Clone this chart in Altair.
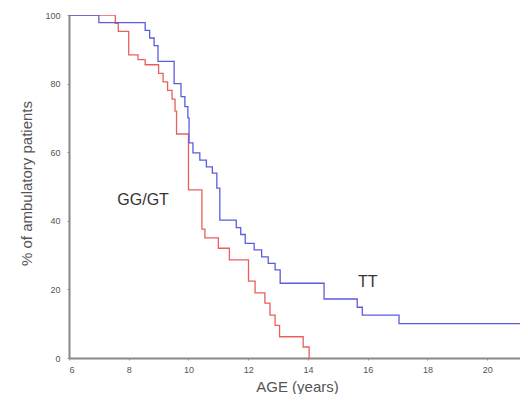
import altair as alt
import pandas as pd

# TT (blue) Kaplan-Meier steps: age at which value changes, value after
tt_age = [6.0, 7.0, 8.55, 8.7, 8.85, 8.98, 9.52, 9.75, 9.88, 9.98, 10.02, 10.15, 10.38, 10.6, 10.8,
          10.95, 11.05, 11.6, 11.75, 11.9, 12.2, 12.45, 12.67, 12.9, 13.07, 14.54, 15.65, 15.82,
          17.05, 21.4]
tt_pct = [100.0, 97.8, 95.5, 93.3, 91.1, 86.5, 80.0, 76.2, 73.3, 70.0, 62.7, 59.8, 57.7, 55.7, 53.9,
          49.5, 40.2, 38.0, 36.0, 33.4, 31.5, 29.5, 27.6, 25.7, 21.8, 17.2, 14.8, 12.5,
          10.0, 10.0]

# GG/GT (red)
gg_age = [6.0, 7.55, 7.65, 8.0, 8.31, 8.55, 9.0, 9.15, 9.3, 9.45, 9.55, 9.6, 10.0, 10.45, 10.55,
          11.0, 11.37, 12.01, 12.23, 12.56, 12.73, 12.9, 13.05, 13.84, 14.04]
gg_pct = [100.0, 97.6, 95.2, 88.4, 87.0, 85.5, 83.0, 80.5, 78.0, 75.5, 72.0, 65.3, 49.0, 37.6, 35.0,
          32.0, 28.6, 22.4, 19.0, 16.0, 12.5, 9.5, 6.2, 3.2, 0.0]

x_ticks = [6, 8, 10, 12, 14, 16, 18, 20]
y_ticks = [0, 20, 40, 60, 80, 100]

label_text = ["GG/GT", "TT"]
label_age = [8.48, 16.0]
label_pct = [46.0, 22.3]

df = pd.concat([
    pd.DataFrame({"age": gg_age, "pct": gg_pct, "grp": "GG/GT", "ord": range(len(gg_age))}),
    pd.DataFrame({"age": tt_age, "pct": tt_pct, "grp": "TT", "ord": range(len(tt_age))}),
])
lab = pd.DataFrame({"t": label_text, "age": label_age, "pct": label_pct})

xscale = alt.Scale(domain=[6, 21.10], nice=False, zero=False)
yscale = alt.Scale(domain=[0, 100], nice=False)

lines = alt.Chart(df).mark_line(interpolate="step-after", strokeWidth=1.3, clip=True).encode(
    x=alt.X("age:Q", scale=xscale,
            axis=alt.Axis(values=x_ticks, title="AGE (years)", format="d",
                          titleX=228, titleY=33, titleBaseline="alphabetic",
                          titleAnchor="start", titleAlign="center")),
    y=alt.Y("pct:Q", scale=yscale,
            axis=alt.Axis(values=y_ticks, title="% of ambulatory patients",
                          titleX=-43, titleY=168, titleBaseline="middle",
                          titleAlign="center", titleAngle=-90)),
    color=alt.Color("grp:N", scale=alt.Scale(domain=["GG/GT", "TT"], range=["#e8605c", "#5a5ce0"]),
                    legend=None),
    order="ord:Q",
    detail="grp:N",
)

texts = alt.Chart(lab).mark_text(fontSize=16, font="Liberation Sans", color="#333",
                                 align="center", baseline="middle").encode(
    x=alt.X("age:Q", scale=xscale), y=alt.Y("pct:Q", scale=yscale), text="t:N")

chart = alt.layer(lines, texts).properties(
    width=451, height=343,
    autosize=alt.AutoSizeParams(type="none"),
    padding={"left": 61, "top": 7, "right": 0, "bottom": 36},
).configure_view(stroke=None).configure_axis(
    grid=False, domainColor="#888", domainWidth=2, tickColor="#999", tickSize=2,
    labelFont="Liberation Sans", labelFontSize=9, labelColor="#555",
    titleFont="Liberation Sans", titleFontSize=15, titleFontWeight="normal", titleColor="#555",
).configure_axisX(labelPadding=5, titleFontSize=15).configure_axisY(labelPadding=7)

chart.save("out.html", embed_options={"renderer": "svg", "actions": False})
